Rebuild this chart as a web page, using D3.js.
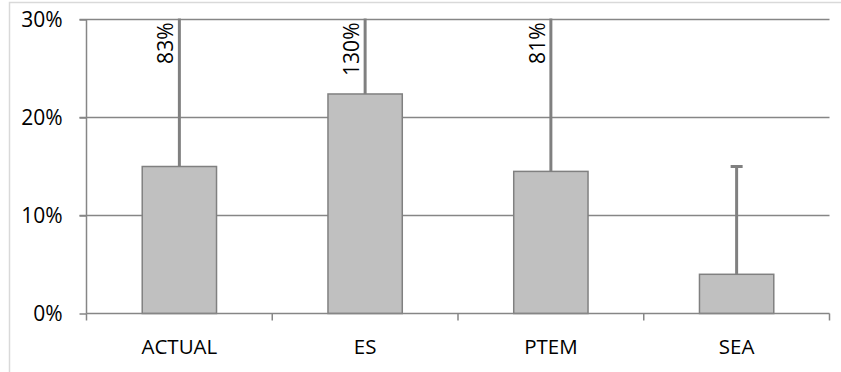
<!DOCTYPE html>
<html><head><meta charset="utf-8">
<script src="https://cdn.jsdelivr.net/npm/d3@7"></script>
<style>body{margin:0;background:#fff}svg{display:block}</style>
</head><body><svg id="c" width="841" height="372"></svg>
<script>
const categories = ["ACTUAL", "ES", "PTEM", "SEA"];
const values = [0.150, 0.224, 0.145, 0.040];
const errorPlus = [0.83, 1.30, 0.81, 0.11];
const errorLabels = ["83%", "130%", "81%", ""];
const yTicks = [0, 0.1, 0.2, 0.3];

const svg = d3.select("#c");
const font = "'Open Sans', sans-serif";
const fsNum = "21px", fsCat = "20.5px";
const L = 86.5, R = 829.5, T = 19.5, B = 313.5;

// outer border
svg.append("path").attr("d", "M9.5,372 V2.5 H841").attr("fill","none").attr("stroke","#d9d9d9").attr("stroke-width",1.5);

const x = d3.scaleBand().domain(categories).range([L, R]).paddingInner(0.6).paddingOuter(0.3);
const y = d3.scaleLinear().domain([0, 0.3]).range([B, T]);

// gridlines
svg.append("g").selectAll("line").data(yTicks.filter(d=>d>0)).join("line")
  .attr("x1", L - 7).attr("x2", R).attr("y1", d=>y(d)).attr("y2", d=>y(d))
  .attr("stroke", "#868686").attr("stroke-width", 1.5);

// y axis
const ya = svg.append("g").attr("transform", `translate(${L},0)`)
  .call(d3.axisLeft(y).tickValues(yTicks).tickFormat(d3.format(".0%")).tickSize(7).tickPadding(17));
ya.select(".domain").attr("stroke", "#868686").attr("stroke-width", 1.5).attr("d", `M0,${T}V${B}`);
ya.selectAll(".tick line").attr("stroke", "#868686").attr("stroke-width", 1.5);
ya.selectAll(".tick text").attr("font-family", font).style("font-size", fsNum).attr("fill", "#000").attr("dy", "0.35em");

// bars
svg.append("g").selectAll("rect").data(values).join("rect")
  .attr("x", (d,i)=>x(categories[i])).attr("width", x.bandwidth())
  .attr("y", d=>y(d)).attr("height", d=>B - y(d))
  .attr("fill", "#c0c0c0").attr("stroke", "#808080").attr("stroke-width", 1.5);

// error bars
const cx = i => x(categories[i]) + x.bandwidth()/2;
svg.append("g").selectAll("line").data(values).join("line")
  .attr("x1", (d,i)=>cx(i)).attr("x2", (d,i)=>cx(i))
  .attr("y1", d=>y(d)).attr("y2", (d,i)=>y(Math.min(0.3, d + errorPlus[i])) - (d+errorPlus[i] > 0.3 ? 1 : 0))
  .attr("stroke", "#808080").attr("stroke-width", 3);
svg.append("g").selectAll("line").data(values.map((d,i)=>[d,i]).filter(([d,i])=>d+errorPlus[i] <= 0.3)).join("line")
  .attr("x1", ([d,i])=>cx(i)-6).attr("x2", ([d,i])=>cx(i)+6)
  .attr("y1", ([d,i])=>y(d+errorPlus[i])).attr("y2", ([d,i])=>y(d+errorPlus[i]))
  .attr("stroke", "#808080").attr("stroke-width", 3);

// error labels
svg.append("g").selectAll("text").data(errorLabels).join("text")
  .attr("transform", (d,i)=>`translate(${cx(i)-6},${T+3}) rotate(-90)`)
  .attr("text-anchor", "end").attr("font-family", font).style("font-size", fsNum).attr("fill", "#000")
  .text(d=>d);

// x axis
const xa = svg.append("g").attr("transform", `translate(0,${B})`);
xa.append("line").attr("x1", L).attr("x2", R).attr("stroke", "#868686").attr("stroke-width", 1.5);
const bounds = d3.range(categories.length + 1).map(i => L + i*(R-L)/categories.length);
xa.selectAll(".tk").data(bounds).join("line").attr("class","tk")
  .attr("x1", d=>d).attr("x2", d=>d).attr("y1", 0).attr("y2", 7)
  .attr("stroke", "#868686").attr("stroke-width", 1.5);
xa.selectAll("text").data(categories).join("text")
  .attr("x", (d,i)=>cx(i)).attr("y", 40).attr("text-anchor","middle")
  .attr("font-family", font).style("font-size", fsCat).attr("fill", "#000").text(d=>d);
</script></body></html>
